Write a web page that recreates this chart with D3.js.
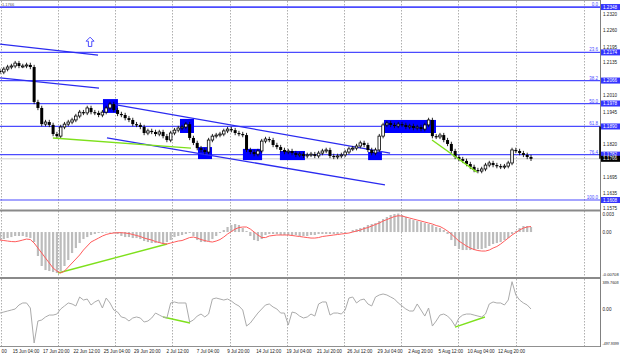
<!DOCTYPE html>
<html><head><meta charset="utf-8">
<script src="https://cdn.jsdelivr.net/npm/d3@7"></script>
<style>body{margin:0;background:#fff}svg{display:block}text{font-family:"Liberation Sans",Arial,sans-serif}</style>
</head><body><svg id="c" width="620" height="357"></svg>
<script>
// ---- data (4H bars, one entry per 2 bars) ----
const closes = [1.2099,1.2110,1.2118,1.2122,1.2133,1.2122,1.2122,1.2126,1.2118,1.1984,
 1.1961,1.1899,1.1907,1.1896,1.1861,1.1853,1.1888,1.1899,1.1907,1.1915,
 1.1930,1.1945,1.1942,1.1961,1.1945,1.1942,1.1934,1.1945,1.1961,1.1976,
 1.1953,1.1938,1.1934,1.1922,1.1915,1.1899,1.1896,1.1888,1.1865,1.1873,
 1.1869,1.1861,1.1869,1.1853,1.1838,1.1865,1.1876,1.1884,1.1888,1.1899,
 1.1846,1.1827,1.1807,1.1800,1.1792,1.1838,1.1853,1.1857,1.1861,1.1873,
 1.1880,1.1876,1.1865,1.1861,1.1857,1.1800,1.1792,1.1784,1.1796,1.1834,
 1.1842,1.1838,1.1819,1.1811,1.1800,1.1792,1.1796,1.1788,1.1781,1.1784,
 1.1777,1.1781,1.1784,1.1777,1.1788,1.1796,1.1800,1.1777,1.1773,1.1777,
 1.1781,1.1792,1.1804,1.1807,1.1815,1.1827,1.1819,1.1800,1.1788,1.1800,
 1.1853,1.1896,1.1903,1.1896,1.1892,1.1899,1.1896,1.1888,1.1892,1.1884,
 1.1888,1.1880,1.1896,1.1915,1.1853,1.1850,1.1857,1.1838,1.1823,1.1796,
 1.1773,1.1765,1.1758,1.1746,1.1735,1.1723,1.1719,1.1727,1.1742,1.1750,
 1.1742,1.1738,1.1735,1.1738,1.1750,1.1800,1.1796,1.1788,1.1781,1.1773,
 1.1766];
const firstOpen = 1.2103;
const macdHist = [-0.00129,-0.00113,-0.00097,-0.00081,-0.00064,-0.00064,-0.00064,-0.00081,-0.00097,-0.00161,
 -0.00386,-0.00547,-0.00612,-0.00628,-0.00644,-0.00660,-0.00628,-0.00547,-0.00451,-0.00338,
 -0.00258,-0.00177,-0.00113,-0.00081,-0.00048,-0.00032,-0.00016,-0.00016,-0.00008,-0.00008,
 -0.00016,-0.00032,-0.00064,-0.00081,-0.00081,-0.00097,-0.00097,-0.00113,-0.00145,-0.00161,
 -0.00177,-0.00177,-0.00177,-0.00193,-0.00161,-0.00129,-0.00081,-0.00064,-0.00048,-0.00032,
 -0.00016,-0.00064,-0.00129,-0.00161,-0.00161,-0.00145,-0.00113,-0.00064,-0.00016,0.00032,
 0.00081,0.00113,0.00129,0.00113,0.00064,0.00016,-0.00064,-0.00129,-0.00145,-0.00113,
 -0.00048,-0.00032,-0.00032,-0.00032,-0.00048,-0.00048,-0.00048,-0.00048,-0.00048,-0.00064,
 -0.00064,-0.00064,-0.00048,-0.00048,-0.00032,-0.00032,-0.00032,-0.00032,-0.00032,-0.00032,
 -0.00016,-0.00016,0.00000,0.00032,0.00048,0.00064,0.00081,0.00113,0.00129,0.00145,
 0.00177,0.00209,0.00242,0.00274,0.00290,0.00298,0.00274,0.00242,0.00209,0.00193,
 0.00177,0.00161,0.00145,0.00129,0.00113,0.00081,0.00064,0.00032,-0.00032,-0.00129,
 -0.00225,-0.00274,-0.00290,-0.00290,-0.00290,-0.00290,-0.00274,-0.00274,-0.00258,-0.00225,
 -0.00193,-0.00177,-0.00161,-0.00129,-0.00097,-0.00032,0.00016,0.00064,0.00097,0.00097,
 0.00081];
const macdSignal = [-0.00129,-0.00137,-0.00145,-0.00153,-0.00156,-0.00145,-0.00129,-0.00113,-0.00121,-0.00177,
 -0.00258,-0.00338,-0.00419,-0.00499,-0.00580,-0.00628,-0.00660,-0.00628,-0.00564,-0.00499,
 -0.00435,-0.00370,-0.00290,-0.00225,-0.00161,-0.00129,-0.00097,-0.00064,-0.00040,-0.00024,
 -0.00016,-0.00011,-0.00011,-0.00016,-0.00024,-0.00040,-0.00056,-0.00072,-0.00097,-0.00113,
 -0.00129,-0.00153,-0.00169,-0.00185,-0.00193,-0.00177,-0.00161,-0.00145,-0.00137,-0.00113,
 -0.00089,-0.00081,-0.00097,-0.00121,-0.00137,-0.00153,-0.00161,-0.00145,-0.00121,-0.00081,
 -0.00032,0.00008,0.00048,0.00072,0.00081,0.00081,0.00048,0.00000,-0.00048,-0.00089,
 -0.00089,-0.00064,-0.00056,-0.00048,-0.00048,-0.00048,-0.00048,-0.00056,-0.00064,-0.00072,
 -0.00081,-0.00089,-0.00097,-0.00097,-0.00089,-0.00072,-0.00064,-0.00056,-0.00048,-0.00040,
 -0.00032,-0.00024,-0.00016,0.00000,0.00016,0.00032,0.00056,0.00072,0.00097,0.00121,
 0.00145,0.00177,0.00201,0.00225,0.00250,0.00262,0.00258,0.00242,0.00225,0.00209,
 0.00193,0.00177,0.00161,0.00145,0.00129,0.00105,0.00089,0.00056,0.00016,-0.00032,
 -0.00089,-0.00145,-0.00185,-0.00225,-0.00258,-0.00282,-0.00298,-0.00306,-0.00306,-0.00290,
 -0.00258,-0.00233,-0.00193,-0.00145,-0.00097,-0.00048,-0.00008,0.00032,0.00064,0.00081,
 0.00089];
const cci = [-56,-42,-28,-14,0,56,84,84,14,-473,
 -167,-153,-111,-84,-84,-70,0,42,84,70,
 42,167,125,139,56,98,125,14,153,84,
 -14,-42,-111,-125,-167,-125,-111,-125,-181,-167,
 -125,-56,-84,-111,-125,84,98,84,84,84,
 -181,-153,-98,-70,-111,-70,139,153,139,125,
 139,111,70,42,-14,-237,-195,-125,-56,0,
 56,70,28,0,-56,-56,-223,-42,-56,-98,
 -125,-111,-70,-98,70,98,98,-84,-56,-56,
 -70,-14,153,167,84,125,139,70,42,167,
 195,209,195,167,139,84,42,0,-28,-28,
 70,-14,-98,14,-237,-167,-84,-70,-98,-153,
 -237,-125,-84,-70,-70,-84,-98,-111,-70,70,
 98,84,84,56,125,380,195,125,84,56,
 0];

const fibNames  = ["0.0","23.6","38.2","50.0","61.8","76.4","100.0"];
const fibPrices = [1.2348,1.2174,1.2066,1.1978,1.1890,1.1782,1.1608];
const priceTicks = [1.2320,1.2260,1.2195,1.2135,1.2010,1.1945,1.1820,1.1695,1.1635,1.1575];
const lastPrice = 1.1766;
const macdLabels = ["0.003","0.00","-0.00708"];
const macdLabelVals = [0.003,0,-0.00708];
const cciLabels = ["389.7608","0.00","-497.9399"];
const cciLabelVals = [389.7608,0,-497.9399];
const timeLabels = ["00","15 Jun 04:00","17 Jun 20:00","22 Jun 12:00","25 Jun 04:00","29 Jun 20:00",
 "2 Jul 12:00","7 Jul 04:00","9 Jul 20:00","14 Jul 12:00","19 Jul 04:00","21 Jul 20:00","26 Jul 12:00",
 "29 Jul 04:00","2 Aug 20:00","5 Aug 12:00","10 Aug 04:00","12 Aug 20:00"];
const timeLabelBars = [2.2,13.7,29.7,45.7,61.7,77.7,93.7,109.7,125.7,141.7,157.7,173.7,189.7,205.7,221.7,237.7,253.7,269.7];
const gridBars = [0.4,30.6,60.6,90.9,121.1,151.2,181.4,211.5,241.5,271.9,307.8];
// drawn objects: [bar0, price0, bar1, price1]
const channelLines = [[0,1.2206,51.7,1.2164],[0,1.2076,52.2,1.2037],[59.1,1.1976,205.7,1.1788],[56.4,1.1846,203,1.1666]];
const priceGreen = [[27.9,1.1846,100.7,1.1807],[227.8,1.1838,251.5,1.1715]];
const macdGreen = [[30.6,-0.00660,88.1,-0.00193]];
const cciGreen = [[86,-111,100.2,-195],[239.9,-251,255.7,-111]];
// blue markers: [barStart, barEnd, priceTop, priceBottom]
const markers = [[54.3,62.2,1.1995,1.1942],[94.9,102.3,1.1919,1.1865],[104.4,111.8,1.1811,1.1765],
 [128.1,138.2,1.1804,1.1761],[147.6,160.8,1.1796,1.1761],[194.1,201.4,1.1792,1.1761],[202.5,229.9,1.1915,1.1865]];
const arrowPos = [47.5,1.2214];

// ---- scales ----
const svg = d3.select("#c");
const W = 600;
const x = d3.scaleLinear().domain([0,280]).range([0,531]);
const yP = d3.scaleLinear().domain([1.1572,1.2375]).range([209.4,0]);
const yM = d3.scaleLinear().domain([-0.00708,0.003]).range([276,213.4]);
const yC = d3.scaleLinear().domain([-497.9399,389.7608]).range([344.8,281]);
const FIB = "#4b4bff", MARK = "#0000ff";

// grid
const g = svg.append("g");
[[1,209],[211,277],[279,346]].forEach(([a,b])=>{
  g.selectAll(null).data(gridBars).enter().append("line")
   .attr("x1",d=>Math.round(x(d))+0.5).attr("x2",d=>Math.round(x(d))+0.5).attr("y1",a).attr("y2",b)
   .attr("stroke","#9a9a9a").attr("stroke-width",0.8).attr("stroke-dasharray","1.5,1.5");
});

// frame
svg.append("line").attr("x1",0).attr("x2",W).attr("y1",0.5).attr("y2",0.5).attr("stroke","#a0a0a0");
svg.append("rect").attr("x",0).attr("y",209.5).attr("width",W).attr("height",2).attr("fill","#8a8a8a");
svg.append("rect").attr("x",0).attr("y",277).attr("width",W).attr("height",2).attr("fill","#8a8a8a");
svg.append("line").attr("x1",0).attr("x2",W).attr("y1",346.5).attr("y2",346.5).attr("stroke","#909090");
svg.append("line").attr("x1",W+0.5).attr("x2",W+0.5).attr("y1",0).attr("y2",347).attr("stroke","#808080");

// bid line
svg.append("line").attr("x1",0).attr("x2",W).attr("y1",yP(lastPrice)).attr("y2",yP(lastPrice)).attr("stroke","#c4c4c4").attr("stroke-width",0.8);

// fib lines
svg.selectAll(null).data(fibPrices).enter().append("line")
  .attr("x1",0).attr("x2",W).attr("y1",d=>yP(d)).attr("y2",d=>yP(d))
  .attr("stroke",FIB).attr("stroke-width",(d,i)=>i===0?1.8:1.2);
svg.selectAll(null).data(fibPrices).enter().append("text")
  .attr("x",598).attr("y",d=>yP(d)-1).attr("text-anchor","end").attr("font-size",4.5).attr("fill",FIB)
  .text((d,i)=>fibNames[i]);

// markers
svg.selectAll(null).data(markers).enter().append("rect")
  .attr("x",d=>x(d[0])).attr("width",d=>x(d[1])-x(d[0]))
  .attr("y",d=>yP(d[2])).attr("height",d=>yP(d[3])-yP(d[2])).attr("fill",MARK);

// channel lines
svg.selectAll(null).data(channelLines).enter().append("line")
  .attr("x1",d=>x(d[0])).attr("y1",d=>yP(d[1])).attr("x2",d=>x(d[2])).attr("y2",d=>yP(d[3]))
  .attr("stroke","#2b2bf0").attr("stroke-width",1.3);

// candles
const cand = svg.append("g");
closes.forEach((c,i)=>{
  const o = i===0 ? firstOpen : closes[i-1];
  const cx = x(2*i);
  const top = yP(Math.max(o,c)), bot = yP(Math.min(o,c));
  cand.append("line").attr("x1",cx).attr("x2",cx).attr("y1",top-2.2).attr("y2",bot+2.2).attr("stroke","#111").attr("stroke-width",0.9);
  if (c>=o) cand.append("rect").attr("x",cx-1.3).attr("width",2.6).attr("y",top).attr("height",Math.max(bot-top,1))
    .attr("fill","#fff").attr("stroke","#000").attr("stroke-width",0.8);
  else cand.append("rect").attr("x",cx-1.5).attr("width",3).attr("y",top).attr("height",Math.max(bot-top,1.2)).attr("fill","#000");
});

// green lines
const greenAttr = (sel,ys)=>sel.attr("x1",d=>x(d[0])).attr("y1",d=>ys(d[1])).attr("x2",d=>x(d[2])).attr("y2",d=>ys(d[3]))
  .attr("stroke","#7ee01c").attr("stroke-width",1.4);
greenAttr(svg.selectAll(null).data(priceGreen).enter().append("line"),yP);
greenAttr(svg.selectAll(null).data(macdGreen).enter().append("line"),yM);
greenAttr(svg.selectAll(null).data(cciGreen).enter().append("line"),yC);

// up arrow
const ax = x(arrowPos[0]), ay = yP(arrowPos[1]);
svg.append("path").attr("transform",`translate(${ax},${ay})`)
  .attr("d","M0,-4.8 L4,-0.8 L1.7,-0.8 L1.7,4.5 L-1.7,4.5 L-1.7,-0.8 L-4,-0.8 Z")
  .attr("fill","#fff").attr("stroke","#3b3bff").attr("stroke-width",0.9);

// MACD
svg.selectAll(null).data(macdHist).enter().append("rect")
  .attr("x",(d,i)=>x(2*i)-1.1).attr("width",2.2)
  .attr("y",d=>Math.min(yM(d),yM(0))).attr("height",d=>Math.abs(yM(d)-yM(0)))
  .attr("fill","#bcbcbc");
svg.append("path").datum(macdSignal)
  .attr("d",d3.line().x((d,i)=>x(2*i)).y(d=>yM(d)))
  .attr("fill","none").attr("stroke","#ff5b5b").attr("stroke-width",1);

// CCI
svg.append("path").datum(cci)
  .attr("d",d3.line().x((d,i)=>x(2*i)).y(d=>yC(d)))
  .attr("fill","none").attr("stroke","#ababab").attr("stroke-width",1);

// right axis labels
const FS = 4.6;
const fit = (sel)=>sel.each(function(){ const w=this.getComputedTextLength(); if (w>16.2) d3.select(this).attr("font-size",FS*16.2/w); });
svg.selectAll(null).data(priceTicks).enter().append("text")
  .attr("x",603).attr("y",d=>yP(d)+1.6).attr("font-size",FS).attr("fill","#222").text(d=>d.toFixed(4));
svg.selectAll(null).data(fibPrices).enter().append("rect")
  .attr("x",601).attr("width",19).attr("y",d=>yP(d)-3).attr("height",6).attr("fill","#3434ff");
svg.selectAll(null).data(fibPrices).enter().append("text")
  .attr("x",603).attr("y",d=>yP(d)+1.6).attr("font-size",FS).attr("fill","#fff").text(d=>d.toFixed(4));
svg.append("rect").attr("x",601).attr("width",19).attr("y",yP(lastPrice)-3).attr("height",6).attr("fill","#000");
svg.append("text").attr("x",603).attr("y",yP(lastPrice)+1.6).attr("font-size",FS).attr("fill","#fff").text(lastPrice.toFixed(4));
svg.append("line").attr("x1",W).attr("x2",W).attr("y1",yP(fibPrices[4])).attr("y2",yP(lastPrice)).attr("stroke","#000").attr("stroke-width",1.6);

fit(svg.selectAll(null).data(macdLabelVals).enter().append("text")
  .attr("x",602.5).attr("y",d=>Math.min(Math.max(yM(d)+1.6,216),276)).attr("font-size",FS).attr("fill","#222").text((d,i)=>macdLabels[i]));
fit(svg.selectAll(null).data(cciLabelVals).enter().append("text")
  .attr("x",602.5).attr("y",d=>Math.min(Math.max(yC(d)+1.6,283.5),345)).attr("font-size",FS).attr("fill","#222").text((d,i)=>cciLabels[i]));

// time labels
svg.selectAll(null).data(timeLabels).enter().append("text")
  .attr("x",(d,i)=>x(timeLabelBars[i])).attr("y",352.5).attr("text-anchor","middle")
  .attr("font-size",FS).attr("fill","#222").text(d=>d);

// top-left caption
svg.append("text").attr("x",2).attr("y",6).attr("font-size",4).attr("fill","#555").text(lastPrice.toFixed(4));
</script></body></html>
